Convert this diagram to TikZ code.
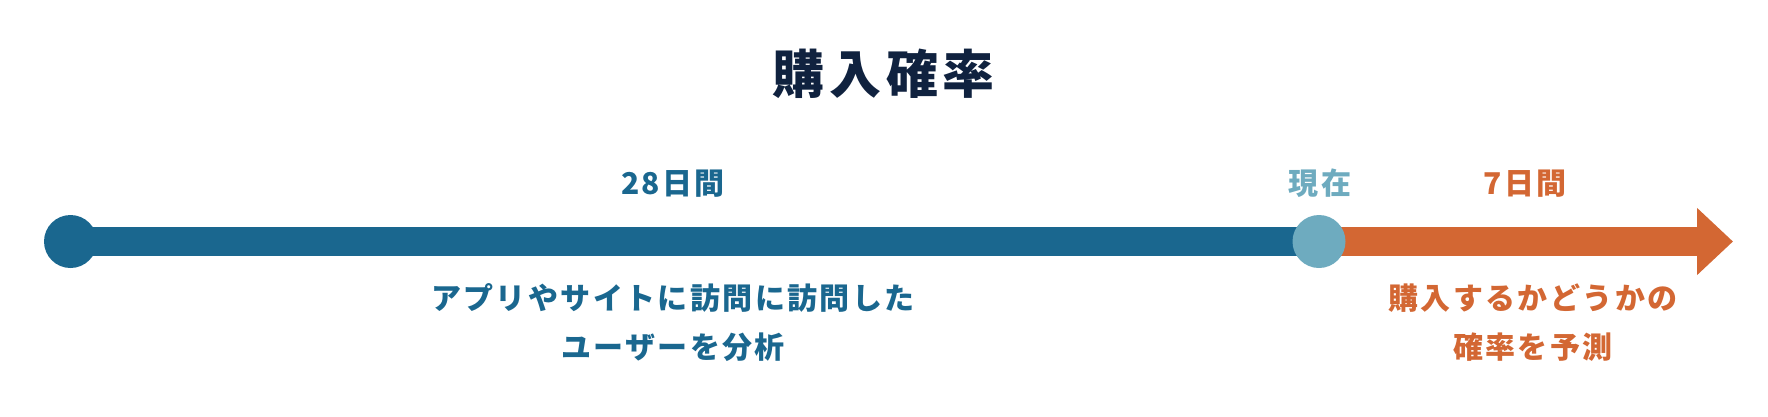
\documentclass[tikz,border=0pt]{standalone}
\usepackage{fontspec}
\setmainfont{Noto Sans CJK JP}
\usetikzlibrary{arrows.meta}
\definecolor{navy}{HTML}{10223F}
\definecolor{barblue}{HTML}{1A678F}
\definecolor{nowblue}{HTML}{6EABBF}
\definecolor{orng}{HTML}{D36733}
\pgfdeclarelayer{bg}
\pgfsetlayers{bg,main}
\tikzset{
  lbl/.style={inner sep=0pt, font=\bfseries\fontsize{30pt}{49pt}\selectfont\addfontfeature{LetterSpace=8}, align=center},
  dot/.style={circle, inner sep=0pt, minimum size=53pt},
  barline/.style={line width=29pt}
}
\begin{document}
\begin{tikzpicture}[x=1pt,y=-1pt]
\useasboundingbox (0,0) rectangle (1768,416);
\node[inner sep=0pt, text=navy, font=\bfseries\fontsize{52pt}{60pt}\selectfont\addfontfeature{LetterSpace=9}] (title) at (884,73.5) {購入確率};
\node[dot, fill=barblue] (start) at (70.5,241.5) {};
\node[dot, fill=nowblue] (now) at (1319,241.5) {};
\coordinate (end) at (1733,241.5);
\begin{pgfonlayer}{bg}
\draw[barline, barblue] (start.center) -- (now.center);
\draw[barline, orng, -{Triangle[length=36pt,width=65pt]}] (now.center) -- (end);
\end{pgfonlayer}
\node[lbl, text=barblue] (d28) at (673,183.5) {28日間};
\node[lbl, text=nowblue] (nowlbl) at (1320,183.5) {現在};
\node[lbl, text=orng] (d7) at (1525,183.5) {7日間};
\node[lbl, text=barblue] (left) at (673,322.5) {アプリやサイトに訪問に訪問した\\ユーザーを分析};
\node[lbl, text=orng] (right) at (1533,322.5) {購入するかどうかの\\確率を予測};
\end{tikzpicture}
\end{document}
